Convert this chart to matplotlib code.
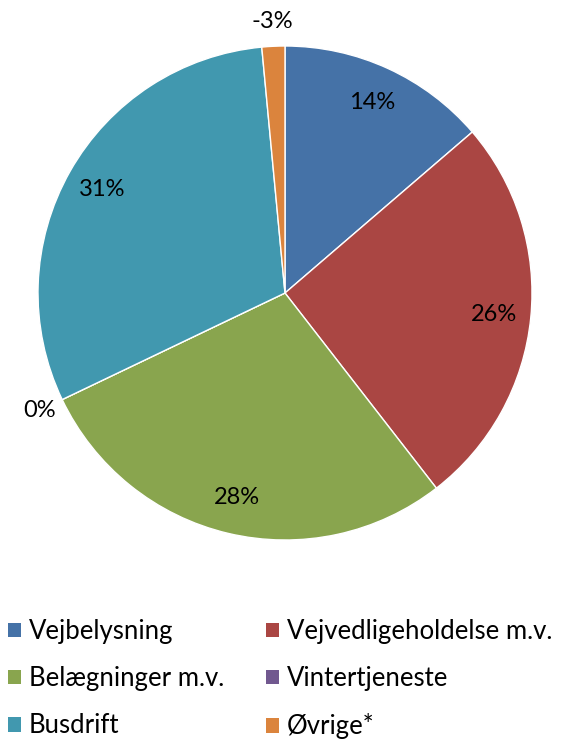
import numpy as np
import matplotlib.pyplot as plt
from matplotlib.patches import Patch

plt.rcParams['font.family'] = ['Lato', 'DejaVu Sans']

# andele (vinkelstoerrelse aflaest af figuren) og viste etiketter
kategorier = ["Vejbelysning", "Vejvedligeholdelse m.v.", "Belægninger m.v.",
              "Vintertjeneste", "Busdrift", "Øvrige*"]
andele = [13.7, 25.8, 28.4, 0.0, 30.6, 1.5]
etiketter = ["14%", "26%", "28%", "0%", "31%", "-3%"]
farver = ["#4572A7", "#AA4643", "#89A54E", "#71588F", "#4198AF", "#DB843D"]

W, H = 574, 741
fig = plt.figure(figsize=(W / 100, H / 100), dpi=100)
cx, cy, r = 285, 293, 247
ax = fig.add_axes([(cx - r) / W, (H - cy - r) / H, 2 * r / W, 2 * r / H])

wedges, _ = ax.pie(andele, colors=farver, startangle=90, counterclock=False,
                   wedgeprops=dict(edgecolor="white", linewidth=1))
ax.set_xlim(-1, 1)
ax.set_ylim(-1, 1)
ax.set_aspect("equal")
ax.axis("off")

# etiketter: inde i store stykker, udenfor smaa
for w, lab, v in zip(wedges, etiketter, andele):
    mid = np.deg2rad((w.theta1 + w.theta2) / 2)
    d = 0.85 if v > 5 else 1.10
    ax.text(d * np.cos(mid), d * np.sin(mid), lab, ha="center", va="center",
            fontsize=17, color="#000000", clip_on=False)

# legenden fyldes raekkevis som i originalen
orden = [0, 2, 4, 1, 3, 5]
handles = [Patch(facecolor=farver[i], edgecolor="none") for i in orden]
fig.legend(handles, [kategorier[i] for i in orden], ncol=2, loc="upper left",
           bbox_to_anchor=(0.005, 1 - 614 / H), frameon=False, fontsize=18.5,
           handlelength=0.5, handleheight=0.5, handletextpad=0.3,
           columnspacing=1.65, labelspacing=0.86, borderaxespad=0.0,
           borderpad=0.2)

fig.savefig("out.png", dpi=100)
